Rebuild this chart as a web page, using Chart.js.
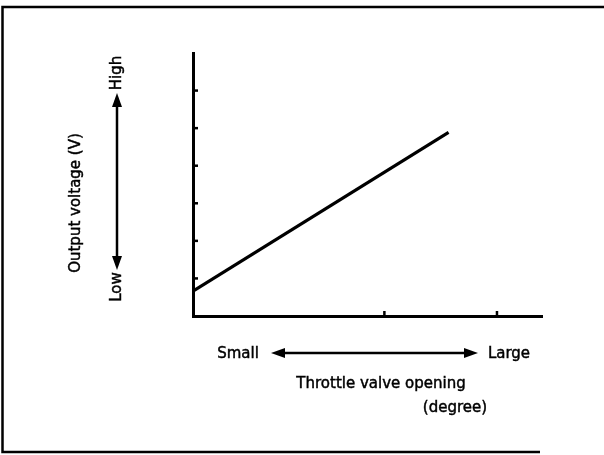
<!DOCTYPE html>
<html>
<head>
<meta charset="utf-8">
<script src="https://cdn.jsdelivr.net/npm/chart.js@4/dist/chart.umd.min.js"></script>
<style>
  html, body { margin: 0; padding: 0; background: #fff; }
  #wrap { width: 604px; height: 455px; position: relative; }
</style>
</head>
<body>
<div id="wrap"><canvas id="c" width="604" height="455"></canvas></div>
<script>
// Throttle valve opening (relative units) and sensor output voltage (relative units)
const openingValues = [0, 2.27];
const voltageValues = [0.66, 4.89];

// Axis extents and tick marks (unlabelled)
const openingRange = [0, 3.1];
const voltageRange = [0, 7];
const openingTicks = [1.7, 2.7];
const voltageTicks = [1, 2, 3, 4, 5, 6];

// Text
const yTitle = 'Output voltage (V)';
const yLow = 'Low';
const yHigh = 'High';
const xSmall = 'Small';
const xLarge = 'Large';
const xTitle = 'Throttle valve opening';
const xUnit = '(degree)';

const FONT = '15px "DejaVu Sans", sans-serif';
const INK = '#000';

// filled text with a hairline outline, giving the slightly heavy print look
function inkText(ctx, s, x, y) {
  ctx.fillText(s, x, y);
  ctx.strokeText(s, x, y);
}

function arrowHead(ctx, x, y, dx, dy, len, half) {
  const px = -dy, py = dx;
  ctx.beginPath();
  ctx.moveTo(x, y);
  ctx.lineTo(x - dx * len + px * half, y - dy * len + py * half);
  ctx.lineTo(x - dx * len - px * half, y - dy * len - py * half);
  ctx.closePath();
  ctx.fill();
}

function doubleArrow(ctx, x1, y1, x2, y2) {
  const L = Math.hypot(x2 - x1, y2 - y1);
  const dx = (x2 - x1) / L, dy = (y2 - y1) / L;
  ctx.save();
  ctx.strokeStyle = INK; ctx.fillStyle = INK; ctx.lineWidth = 2.5;
  ctx.beginPath();
  ctx.moveTo(x1 + dx * 6, y1 + dy * 6);
  ctx.lineTo(x2 - dx * 6, y2 - dy * 6);
  ctx.stroke();
  arrowHead(ctx, x2, y2, dx, dy, 14, 5);
  arrowHead(ctx, x1, y1, -dx, -dy, 14, 5);
  ctx.restore();
}

const decorations = {
  id: 'decorations',
  beforeDraw(chart) {
    const ctx = chart.ctx;
    ctx.save();
    ctx.fillStyle = '#fff';
    ctx.fillRect(0, 0, chart.width, chart.height);
    // outer frame
    ctx.strokeStyle = INK; ctx.lineWidth = 2.5;
    ctx.beginPath();
    ctx.moveTo(604, 7); ctx.lineTo(2.5, 7); ctx.lineTo(2.5, 452); ctx.lineTo(540, 452);
    ctx.stroke();
    ctx.restore();
  },
  afterDraw(chart) {
    const ctx = chart.ctx;
    const xs = chart.scales.x, ys = chart.scales.y;
    const a = chart.chartArea;
    ctx.save();
    // inward tick marks
    ctx.strokeStyle = INK; ctx.lineWidth = 2.5;
    voltageTicks.forEach(v => {
      const py = ys.getPixelForValue(v);
      ctx.beginPath(); ctx.moveTo(a.left, py); ctx.lineTo(a.left + 5, py); ctx.stroke();
    });
    openingTicks.forEach(v => {
      const px = xs.getPixelForValue(v);
      ctx.beginPath(); ctx.moveTo(px, a.bottom); ctx.lineTo(px, a.bottom - 5); ctx.stroke();
    });

    ctx.fillStyle = INK;
    ctx.strokeStyle = INK;
    ctx.lineWidth = 0.45;
    ctx.font = FONT;
    ctx.textBaseline = 'middle';
    ctx.textAlign = 'center';

    // vertical axis annotations
    [[yTitle, 76, 203], [yHigh, 117, 73], [yLow, 117, 287]].forEach(([s, x, y]) => {
      ctx.save();
      ctx.translate(x, y);
      ctx.rotate(-Math.PI / 2);
      inkText(ctx, s, 0, 0);
      ctx.restore();
    });

    // horizontal axis annotations
    inkText(ctx, xSmall, 238, 354);
    inkText(ctx, xLarge, 509, 354);
    inkText(ctx, xTitle, 381, 384);
    inkText(ctx, xUnit, 455, 408);
    ctx.restore();

    doubleArrow(ctx, 117, 270, 117, 93);
    doubleArrow(ctx, 271, 353, 478, 353);
  }
};

const axisCommon = {
  type: 'linear',
  grid: { display: false, drawTicks: false },
  ticks: { display: false },
  border: { display: true, color: INK, width: 3 }
};

new Chart(document.getElementById('c'), {
  type: 'line',
  data: {
    datasets: [{
      data: openingValues.map((x, i) => ({ x, y: voltageValues[i] })),
      borderColor: INK,
      borderWidth: 3.2,
      pointRadius: 0,
      fill: false,
      tension: 0
    }]
  },
  options: {
    responsive: false,
    animation: false,
    events: [],
    layout: { padding: { left: 193, top: 53, right: 62, bottom: 139 } },
    plugins: { legend: { display: false }, tooltip: { enabled: false } },
    scales: {
      x: Object.assign({}, axisCommon, { min: openingRange[0], max: openingRange[1] }),
      y: Object.assign({}, axisCommon, { min: voltageRange[0], max: voltageRange[1] })
    }
  },
  plugins: [decorations]
});
</script>
</body>
</html>
